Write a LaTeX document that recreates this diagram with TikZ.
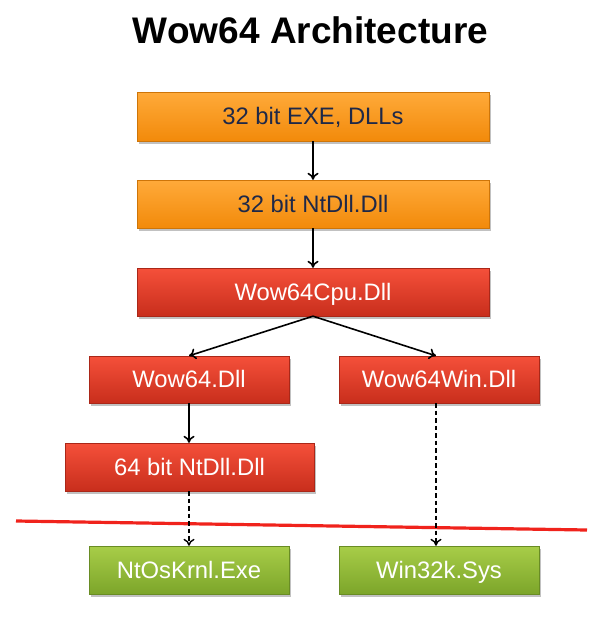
\documentclass[tikz,border=0pt]{standalone}
\usepackage{fontspec}
\setmainfont{Liberation Sans}
\usetikzlibrary{arrows.meta,shadows}
\definecolor{txtnavy}{HTML}{1E2848}
\definecolor{orgtop}{HTML}{FFAA3A}
\definecolor{orgbot}{HTML}{F28A0A}
\definecolor{redtop}{HTML}{F5503A}
\definecolor{redbot}{HTML}{C82E1C}
\definecolor{grntop}{HTML}{A8CD48}
\definecolor{grnbot}{HTML}{7CA52A}
\definecolor{cutline}{HTML}{F0231C}
\tikzset{
  box/.style={rectangle, inner sep=0pt, text height=16.9pt, text depth=0pt,
    font=\fontsize{23.8}{28}\selectfont,
    drop shadow={shadow xshift=1.5pt, shadow yshift=-2.5pt, opacity=0.35, fill=black!70}},
  orangebox/.style={box, top color=orgtop, bottom color=orgbot, text=txtnavy, draw=orgbot!85!black, line width=0.4pt},
  redbox/.style={box, top color=redtop, bottom color=redbot, text=white, draw=redbot!85!black, line width=0.4pt},
  greenbox/.style={box, top color=grntop, bottom color=grnbot, text=white, draw=grnbot!85!black, line width=0.4pt},
  link/.style={-{To[length=7pt,width=11pt]}, line width=1.6pt, black},
  dlink/.style={-{To[length=7pt,width=11pt]}, line width=1.4pt, black, dash pattern=on 4.5pt off 3pt},
}
\begin{document}
\begin{tikzpicture}[x=1pt,y=-1pt]
\useasboundingbox (0,0) rectangle (616,638);
\node[font=\fontsize{37}{44}\selectfont\bfseries, anchor=base] (title) at (310.5,43) {Wow64 Architecture};
\node[orangebox, minimum width=352pt, minimum height=49pt] (exe) at (313,116.5) {32 bit EXE, DLLs};
\node[orangebox, minimum width=352pt, minimum height=48pt] (nt32) at (313,204) {32 bit NtDll.Dll};
\node[redbox, minimum width=352pt, minimum height=48pt] (cpu) at (313,292) {Wow64Cpu.Dll};
\node[redbox, minimum width=200pt, minimum height=47pt] (wow) at (189,379.5) {Wow64.Dll};
\node[redbox, minimum width=200pt, minimum height=47pt] (win) at (439,379.5) {Wow64Win.Dll};
\node[redbox, minimum width=249pt, minimum height=48pt] (nt64) at (189.5,467) {64 bit NtDll.Dll};
\node[greenbox, minimum width=200pt, minimum height=48pt] (krnl) at (189,570) {NtOsKrnl.Exe};
\node[greenbox, minimum width=200pt, minimum height=48pt] (w32k) at (439,570) {Win32k.Sys};
\coordinate (cutL) at (16,521);
\coordinate (cutR) at (587,530);
\draw[cutline, line width=3.2pt] (cutL) -- (cutR);
\draw[link] (exe.south) -- (nt32.north);
\draw[link] (nt32.south) -- (cpu.north);
\draw[link] (cpu.south) -- (wow.north);
\draw[link] (cpu.south) -- ([xshift=-3pt]win.north);
\draw[link] (wow.south) -- (wow.south |- nt64.north);
\draw[dlink] (wow.south |- nt64.south) -- (wow.south |- krnl.north);
\draw[dlink] ([xshift=-3pt]win.south) -- ([xshift=-3pt]w32k.north);
\end{tikzpicture}
\end{document}
